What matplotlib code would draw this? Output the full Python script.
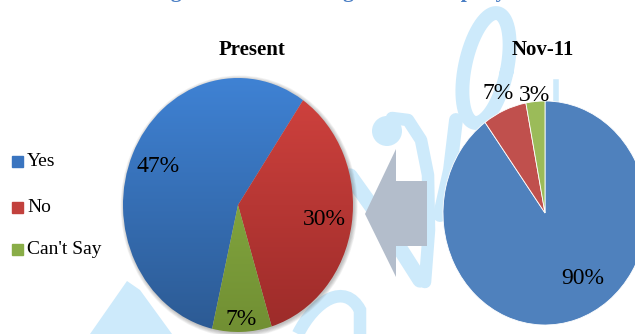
import numpy as np
import matplotlib.pyplot as plt
import matplotlib.colors as mcolors
from matplotlib.patches import Polygon, Rectangle, Ellipse, Circle
from matplotlib.path import Path
from matplotlib.patches import PathPatch

W, H = 635, 334

categories = ['Yes', 'No', "Can't Say"]
present = [47, 30, 7]
nov11 = [90, 7, 3]
pie_titles = ['Present', 'Nov-11']
header = 'Understanding of all the Working in the Company'

# shaded colours (top, bottom) for the left pie, flat colours for the right one
shades = [('#3F82D4', '#2C5A93'), ('#D2433F', '#9C2B29'), ('#8FB848', '#718F33')]
flat = ['#4F81BD', '#C0504D', '#9BBB59']
legend_cols = ['#3A75C0', '#C2413D', '#89AD47']
wm = '#CDEAFB'

fig = plt.figure(figsize=(W / 100, H / 100), dpi=100)

# background layer in pixel coordinates (watermark + arrow)
bg = fig.add_axes([0, 0, 1, 1])
bg.set_xlim(0, W)
bg.set_ylim(H, 0)
bg.axis('off')

t = np.linspace(0, 2 * np.pi, 200)
ang = np.deg2rad(12)
ex, ey = 21 * np.cos(t), 56 * np.sin(t)
bg.plot(486 + ex * np.cos(ang) - ey * np.sin(ang), 68 + ex * np.sin(ang) + ey * np.cos(ang),
        color=wm, lw=10, solid_capstyle='round', zorder=1)
bg.plot([456, 450, 440], [120, 170, 215], color=wm, lw=10, solid_capstyle='round', zorder=1)
bg.plot([556, 556], [82, 100], color=wm, lw=4, zorder=1)
bg.add_patch(Circle((387, 131), 15, color=wm, lw=0, zorder=1))
bg.plot([392, 408, 421, 428, 429, 425], [118, 120, 140, 175, 230, 282], color=wm, lw=9,
        solid_capstyle='round', zorder=1)
bg.plot([350, 385, 420], [176, 225, 280], color=wm, lw=11, solid_capstyle='round', zorder=1)
bg.add_patch(Polygon([(90, 334), (127, 281), (140, 290), (172, 334)], closed=True, color=wm,
                     lw=0, zorder=1))
verts = [(298, 334), (315, 300), (345, 282), (360, 310), (360, 334)]
bg.add_patch(PathPatch(Path(verts, [Path.MOVETO] + [Path.CURVE4] * 3 + [Path.LINETO]),
                       fill=False, edgecolor=wm, lw=9, zorder=1))

bg.add_patch(Polygon([(365, 214), (396, 149), (396, 181), (427, 181),
                      (427, 246), (396, 246), (396, 277)], closed=True, color='#B3BDCB',
                     lw=0, zorder=5))

# chart heading, sitting above the top edge so only its descenders remain
fig.text(44 / W, 1 + 3 / H, header, ha='left', va='baseline', fontsize=15.5,
         fontweight='bold', family='Liberation Serif', color='#4A7EC4')


def pie_axes(cx, cy, rx, ry, pad=1.3):
    ax = fig.add_axes([(cx - pad * rx) / W, 1 - (cy + pad * ry) / H, 2 * pad * rx / W, 2 * pad * ry / H])
    return ax


def place_labels(ax, wedges, values, dists, shifts):
    for w, v, d, s in zip(wedges, values, dists, shifts):
        mid = np.deg2rad((w.theta1 + w.theta2) / 2 + s)
        ax.text(d * np.cos(mid), d * np.sin(mid), f'{v}%', ha='center', va='center',
                fontsize=17, family='Liberation Serif', color='black', zorder=5)


# left pie: Present
axl = pie_axes(238, 205, 115, 127)
wl, _ = axl.pie(present, startangle=-103, counterclock=False, radius=1,
                wedgeprops=dict(linewidth=0))
for k in range(6):
    axl.add_patch(Ellipse((0.01, -0.01), 2 + 0.012 * k, 2 + 0.012 * k, color='#555555',
                          alpha=0.07, lw=0, zorder=0))
grad = np.linspace(0, 1, 256)[:, None]
for w, (ctop, cbot) in zip(wl, shades):
    cmap = mcolors.LinearSegmentedColormap.from_list('shade', [cbot, ctop])
    im = axl.imshow(grad, cmap=cmap, extent=(-1, 1, -1, 1), origin='lower',
                    aspect='auto', zorder=2, interpolation='bilinear')
    im.set_clip_path(w)
    w.set_facecolor('none')
place_labels(axl, wl, present, [0.76, 0.76, 0.9], [0, 0, 0])
axl.set_aspect('auto')
axl.set_xlim(-1.3, 1.3)
axl.set_ylim(-1.3, 1.3)
axl.axis('off')

# right pie: Nov-11
axr = pie_axes(545, 213, 102, 112)
wr, _ = axr.pie(nov11, colors=flat, startangle=90, counterclock=False, radius=1,
                wedgeprops=dict(linewidth=0.6, edgecolor='white'))
place_labels(axr, wr, nov11, [0.69, 1.16, 1.05], [14, 0, 0])
axr.set_aspect('auto')
axr.set_xlim(-1.3, 1.3)
axr.set_ylim(-1.3, 1.3)
axr.axis('off')

for title, x in zip(pie_titles, [252, 543]):
    fig.text(x / W, 1 - 50 / H, title, ha='center', va='center', fontsize=15,
             fontweight='bold', family='Liberation Serif')

# legend
for i, (name, col) in enumerate(zip(categories, legend_cols)):
    y = [162, 208, 250][i]
    fig.add_artist(Rectangle((12 / W, 1 - (y + 5) / H), 11 / W, 11 / H, color=col,
                             transform=fig.transFigure))
    fig.text(27 / W, 1 - y / H, name, ha='left', va='center', fontsize=14,
             family='Liberation Serif')

fig.savefig('out.png', dpi=100)
